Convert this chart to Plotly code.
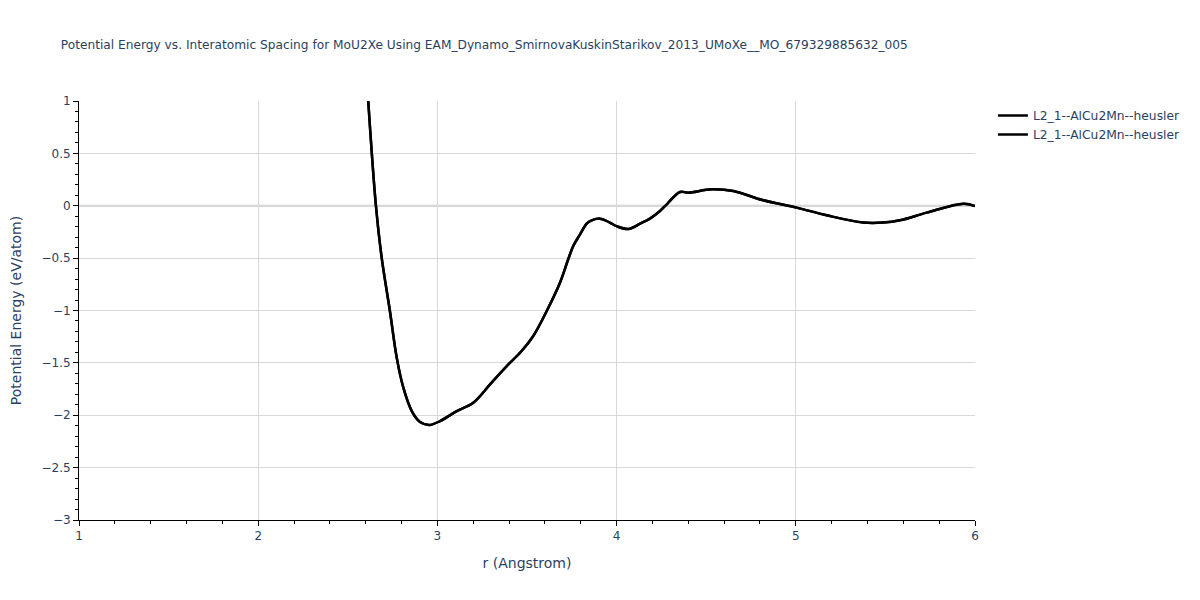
import plotly.graph_objects as go

r_vals = [2.614, 2.657, 2.689, 2.735, 2.773, 2.81, 2.857, 2.903, 2.955, 3.015,
          3.108, 3.2, 3.294, 3.387, 3.47, 3.535, 3.61, 3.684, 3.73, 3.758,
          3.796, 3.833, 3.852, 3.907, 3.963, 4.0, 4.066, 4.131, 4.186, 4.242,
          4.28, 4.354, 4.4, 4.531, 4.651, 4.819, 5.005, 5.172, 5.377, 5.488,
          5.581, 5.73, 5.935, 6.0]
energy_vals = [1.0, -0.002, -0.496, -1.005, -1.45, -1.737, -1.96, -2.064, -2.093, -2.055,
               -1.96, -1.88, -1.705, -1.53, -1.387, -1.243, -1.005, -0.735, -0.511, -0.384,
               -0.273, -0.171, -0.146, -0.123, -0.161, -0.195, -0.222, -0.171, -0.123, -0.05,
               0.014, 0.131, 0.125, 0.157, 0.141, 0.052, -0.018, -0.091, -0.161, -0.161,
               -0.139, -0.066, 0.02, -0.002]
series_names = ["L2_1--AlCu2Mn--heusler", "L2_1--AlCu2Mn--heusler"]

fig = go.Figure()
for name in series_names:
    fig.add_trace(go.Scatter(x=r_vals, y=energy_vals, mode="lines", name=name,
                             line=dict(color="black", width=2.5, shape="spline")))

axis_common = dict(showline=True, linecolor="black", linewidth=1, ticks="outside",
                   tickcolor="black", gridcolor="#d9d9d9", zeroline=False, mirror=False)

fig.update_layout(
    template="plotly_white",
    width=1200, height=600,
    font=dict(family="Verdana, DejaVu Sans, sans-serif", size=12, color="#2a3f5f"),
    margin=dict(l=71, r=233, t=93, b=88),
    title=dict(text="Potential Energy vs. Interatomic Spacing for MoU2Xe Using EAM_Dynamo_SmirnovaKuskinStarikov_2013_UMoXe__MO_679329885632_005",
               font=dict(size=12.2), x=0.044, xanchor="left", y=0.938, yanchor="middle"),
    xaxis=dict(title=dict(text="r (Angstrom)", font=dict(size=14)), range=[1, 6], dtick=1,
               minor=dict(ticks="outside", dtick=0.2, tickcolor="black", showgrid=False),
               **axis_common),
    yaxis=dict(title=dict(text="Potential Energy (eV/atom)", font=dict(size=14), standoff=22),
               range=[-3, 1], dtick=0.5, automargin=False,
               minor=dict(ticks="outside", dtick=0.1, tickcolor="black", showgrid=False),
               **axis_common),
    legend=dict(x=1.02, y=1, font=dict(size=12.3)),
    showlegend=True,
)
fig.add_hline(y=0, line=dict(color="#c8c8c8", width=2), layer="below")

fig.write_html("out.html")
